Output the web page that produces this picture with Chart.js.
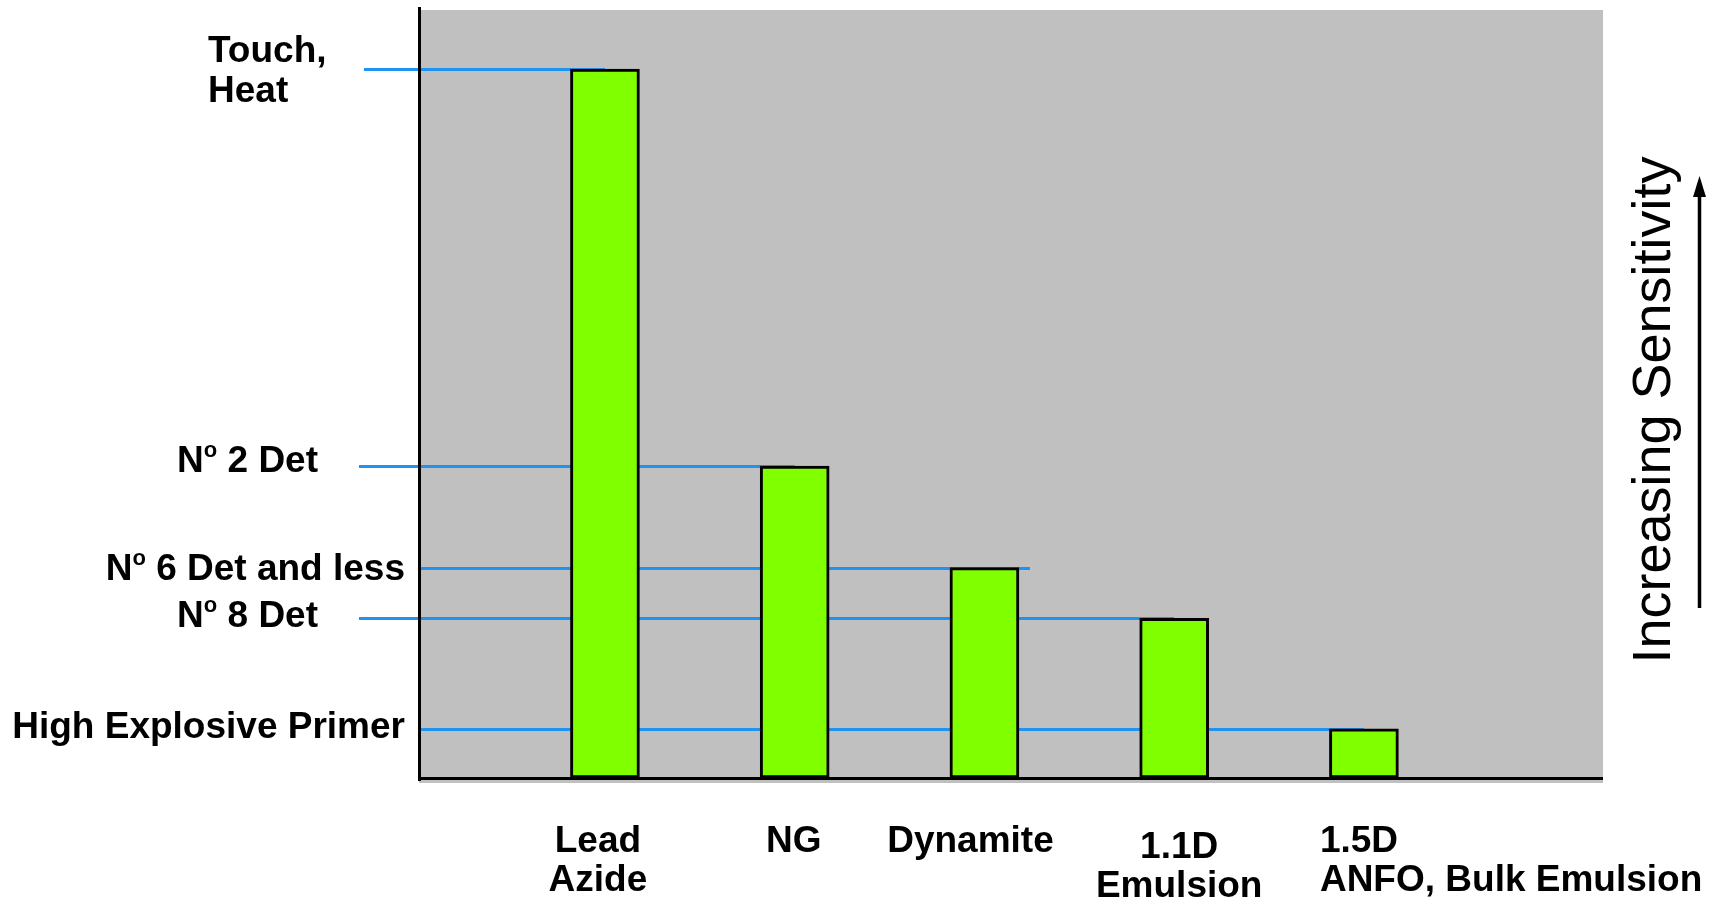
<!DOCTYPE html>
<html>
<head>
<meta charset="utf-8">
<script src="https://cdn.jsdelivr.net/npm/chart.js@4.4.1/dist/chart.umd.min.js"></script>
<style>
  html, body { margin: 0; padding: 0; background: #ffffff; }
  #wrap { width: 1712px; height: 901px; position: relative; }
</style>
</head>
<body>
<div id="wrap"><canvas id="chart"></canvas></div>
<script>
// Initiation levels, from most to least sensitive (arbitrary 0-100 sensitivity scale)
const levelNames = [['Touch,', 'Heat'], ['Nº 2 Det'], ['Nº 6 Det and less'], ['Nº 8 Det'], ['High Explosive Primer']];
const levelValues = [92.3, 40.6, 27.4, 20.8, 6.4];

// Products and the level that initiates each one
const categoryLabels = [['Lead', 'Azide'], ['NG'], ['Dynamite'], ['1.1D', 'Emulsion'], ['1.5D', 'ANFO, Bulk Emulsion']];
const categoryPositions = [1, 2, 3, 4, 5];
const initiatedBy = [0, 1, 2, 3, 4];
const sensitivity = initiatedBy.map(i => levelValues[i]);

const axisTitle = 'Increasing Sensitivity';

// ---- presentation ----
const FONT = '"Liberation Sans", Arial, Helvetica, sans-serif';
const LABEL_SIZE = 37;
const BLUE = '#1E93F2';
const GRAY = '#C0C0C0';
const GREEN = '#80FF00';

// left labels: anchor relative to plot left edge, baseline offsets relative to the level line
const levelLabelLayout = [
  { align: 'left',  dx: -211, dy: [-7, 33], lineFrom: -55 },
  { align: 'right', dx: -101, dy: [6],      lineFrom: -60 },
  { align: 'right', dx: -14,  dy: [12],     lineFrom: 0, overhang: 11 },
  { align: 'right', dx: -101, dy: [9],      lineFrom: -60 },
  { align: 'right', dx: -14,  dy: [9],      lineFrom: 0 }
];
// bottom labels: anchor relative to bar centre, baselines relative to plot bottom
const categoryLabelLayout = [
  { align: 'center', dx: -7,  dy: [74, 113] },
  { align: 'center', dx: -1,  dy: [74] },
  { align: 'center', dx: -14, dy: [74] },
  { align: 'center', dx: 5,   dy: [80, 119] },
  { align: 'left',   dx: -44, dy: [74, 113] }
];

function drawRich(ctx, text, x, y, align, size) {
  const mainFont = `bold ${size}px ${FONT}`;
  const supFont = `bold ${Math.round(size * 0.6)}px ${FONT}`;
  const segs = [];
  text.split('º').forEach((p, i) => {
    if (i > 0) segs.push({ t: 'o', sup: true });
    if (p) segs.push({ t: p, sup: false });
  });
  let w = 0;
  segs.forEach(s => { ctx.font = s.sup ? supFont : mainFont; s.w = ctx.measureText(s.t).width; w += s.w; });
  let cx = align === 'left' ? x : align === 'right' ? x - w : x - w / 2;
  ctx.textAlign = 'left';
  ctx.textBaseline = 'alphabetic';
  ctx.fillStyle = '#000';
  segs.forEach(s => {
    ctx.font = s.sup ? supFont : mainFont;
    ctx.fillText(s.t, cx, s.sup ? y - size * 0.4 : y);
    cx += s.w;
  });
}

const sensitivityPlugin = {
  id: 'sensitivityChart',
  beforeDraw(chart) {
    const { ctx, chartArea: a } = chart;
    ctx.save();
    ctx.fillStyle = GRAY;
    ctx.fillRect(a.left, a.top, a.right - a.left, a.bottom - a.top + 5);
    ctx.restore();
  },
  beforeDatasetsDraw(chart) {
    const { ctx, chartArea: a, scales } = chart;
    const bars = chart.getDatasetMeta(0).data;
    ctx.save();
    ctx.strokeStyle = BLUE;
    ctx.lineWidth = 3;
    levelValues.forEach((v, li) => {
      const lay = levelLabelLayout[li];
      const ci = initiatedBy.indexOf(li);
      const bar = bars[ci];
      const y = Math.round(scales.y.getPixelForValue(v)) + 0.5;
      const xEnd = lay.overhang ? bar.x + bar.width / 2 + lay.overhang : bar.x;
      ctx.beginPath();
      ctx.moveTo(a.left + lay.lineFrom, y);
      ctx.lineTo(xEnd, y);
      ctx.stroke();
    });
    ctx.restore();
  },
  afterDatasetsDraw(chart) {
    const { ctx, chartArea: a, scales } = chart;
    ctx.save();
    // axes
    ctx.strokeStyle = '#000';
    ctx.lineWidth = 3;
    ctx.beginPath();
    ctx.moveTo(a.left + 0.5, a.top - 3);
    ctx.lineTo(a.left + 0.5, a.bottom + 3);
    ctx.stroke();
    ctx.beginPath();
    ctx.moveTo(a.left - 1, a.bottom + 0.5);
    ctx.lineTo(a.right, a.bottom + 0.5);
    ctx.stroke();

    // level labels on the left
    levelNames.forEach((lines, li) => {
      const lay = levelLabelLayout[li];
      const y = scales.y.getPixelForValue(levelValues[li]);
      lines.forEach((t, k) => drawRich(ctx, t, a.left + lay.dx, y + lay.dy[k], lay.align, LABEL_SIZE));
    });

    // product labels under the bars
    categoryLabels.forEach((lines, ci) => {
      const lay = categoryLabelLayout[ci];
      const x = scales.x.getPixelForValue(categoryPositions[ci]);
      lines.forEach((t, k) => drawRich(ctx, t, x + lay.dx, a.bottom + lay.dy[k], lay.align, LABEL_SIZE));
    });

    // sensitivity direction title and arrow
    ctx.save();
    ctx.translate(a.right + 67, (a.top + a.bottom) / 2 + 16);
    ctx.rotate(-Math.PI / 2);
    ctx.font = `54px ${FONT}`;
    ctx.fillStyle = '#000';
    ctx.textAlign = 'center';
    ctx.textBaseline = 'alphabetic';
    ctx.fillText(axisTitle, 0, 0);
    ctx.restore();

    const ax = a.right + 96.5;
    const yTip = a.top + 166, yTail = a.top + 598;
    ctx.strokeStyle = '#000';
    ctx.lineWidth = 3.5;
    ctx.beginPath();
    ctx.moveTo(ax, yTail);
    ctx.lineTo(ax, yTip + 14);
    ctx.stroke();
    ctx.fillStyle = '#000';
    ctx.beginPath();
    ctx.moveTo(ax, yTip);
    ctx.lineTo(ax - 6.5, yTip + 21);
    ctx.lineTo(ax + 6.5, yTip + 21);
    ctx.closePath();
    ctx.fill();
    ctx.restore();
  }
};

new Chart(document.getElementById('chart'), {
  type: 'bar',
  data: {
    datasets: [{
      label: 'Sensitivity',
      data: categoryPositions.map((x, i) => ({ x: x, y: sensitivity[i] })),
      backgroundColor: GREEN,
      borderColor: '#000',
      borderWidth: 3,
      borderSkipped: false,
      barThickness: 69
    }]
  },
  options: {
    responsive: true,
    maintainAspectRatio: false,
    animation: false,
    events: [],
    layout: { padding: { left: 419, top: 10, right: 109, bottom: 123 } },
    plugins: { legend: { display: false }, tooltip: { enabled: false } },
    scales: {
      x: { type: 'linear', min: 0.02, max: 6.26, offset: false, display: false },
      y: { type: 'linear', min: 0, max: 100, display: false }
    }
  },
  plugins: [sensitivityPlugin]
});
</script>
</body>
</html>
